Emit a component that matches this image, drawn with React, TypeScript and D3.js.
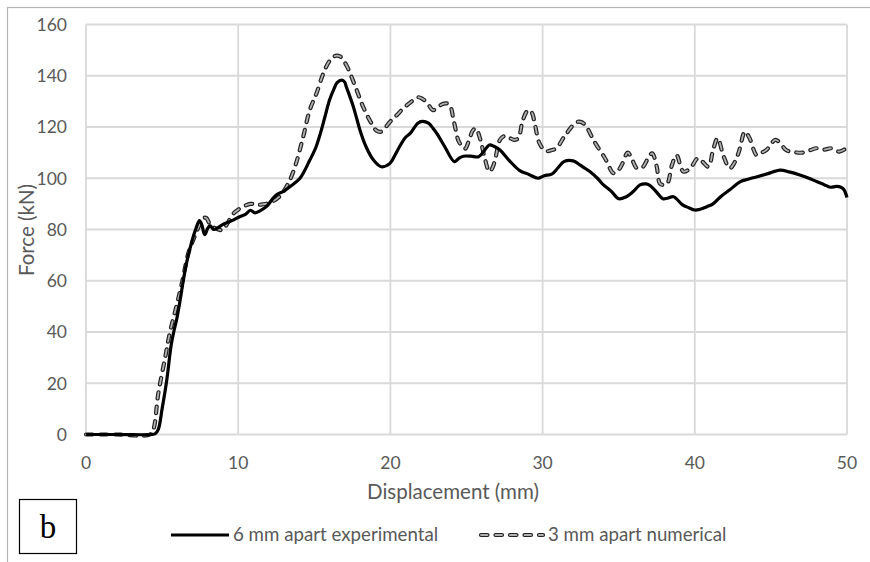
import React from "react";
import * as d3 from "d3";

const xTicks = [0, 10, 20, 30, 40, 50];
const yTicks = [0, 20, 40, 60, 80, 100, 120, 140, 160];

const expDisp = [0, 2, 4.3, 4.55, 4.75, 5.0, 5.3, 5.6, 5.8, 5.96, 6.2, 6.39, 6.61, 6.94, 7.2, 7.45, 7.6, 7.8, 8.0, 8.15, 8.4, 8.6, 9.0, 9.2, 9.6, 10.1, 10.5, 10.8, 11.1, 11.4, 11.87, 12.2, 12.5, 13.0, 13.4, 14.06, 14.7, 15.1, 15.4, 15.7, 16.0, 16.3, 16.5, 16.8, 17.0, 17.1, 17.3, 17.56, 17.8, 18.0, 18.4, 18.9, 19.4, 19.97, 20.3, 20.6, 21.0, 21.3, 21.8, 22.1, 22.5, 22.8, 23.1, 23.6, 24.2, 24.5, 24.8, 25.3, 25.8, 26.2, 26.5, 26.8, 27.2, 27.8, 28.5, 29.1, 29.7, 30.1, 30.6, 31.0, 31.4, 32.0, 32.5, 33.1, 33.6, 34.0, 34.5, 35.0, 35.5, 35.9, 36.4, 36.8, 37.1, 37.5, 37.9, 38.2, 38.6, 39.2, 39.6, 40.0, 40.4, 40.8, 41.2, 41.7, 42.3, 43.0, 43.5, 44.1, 44.8, 45.6, 46.2, 46.9, 47.5, 48.0, 48.5, 48.9, 49.3, 49.6, 49.8, 50];
const expForce = [0, 0, 0, 0.3, 2, 10, 21, 35, 41, 45, 53, 60, 67, 75, 80, 83.5, 82, 78, 80.5, 81.5, 80, 80.5, 82, 82.5, 83.5, 85, 86, 87.5, 86.5, 87.2, 89, 91.5, 93.5, 95, 96.7, 100, 107, 112, 117.5, 124, 130.5, 135, 137.3, 138.3, 137.5, 135.7, 132.5, 128, 123, 118.8, 112.3, 107, 104.5, 105.8, 109, 112.3, 116, 117.5, 121.5, 122.2, 121.5, 119.5, 117, 112, 106.5, 107.8, 108.6, 108.6, 108.4, 111, 113, 112.5, 111, 107, 103, 101.5, 100, 101, 101.6, 104, 106.5, 106.8, 105, 102.6, 100, 97.4, 95, 92, 92.8, 94.5, 97.4, 97.8, 97, 94.5, 92, 92.2, 92.8, 89.6, 88.5, 87.6, 88, 88.9, 90, 92.8, 95.5, 98.7, 99.6, 100.6, 101.8, 103.2, 102.5, 101.3, 100, 98.7, 97.5, 96.5, 96.8, 96.5, 95.5, 92.5];

const numDisp = [0, 2, 4.2, 4.42, 4.75, 5.2, 5.5, 5.96, 6.3, 6.72, 7.05, 7.4, 7.7, 7.9, 8.1, 8.36, 8.7, 9.0, 9.3, 9.7, 10.2, 10.8, 11.2, 11.6, 12.1, 12.7, 13.1, 13.4, 13.8, 14.27, 14.7, 15.15, 15.6, 16.03, 16.4, 16.7, 17.1, 17.7, 18.2, 18.7, 19.1, 19.4, 19.97, 20.4, 20.85, 21.4, 21.8, 22.1, 22.4, 22.8, 23.1, 23.37, 23.7, 23.9, 24.2, 24.5, 24.9, 25.15, 25.4, 25.6, 25.9, 26.2, 26.5, 26.7, 26.9, 27.2, 27.5, 27.75, 28.1, 28.4, 28.7, 29.06, 29.3, 29.5, 29.8, 30.2, 30.6, 30.9, 31.5, 32.2, 32.5, 32.8, 33.4, 34.1, 34.65, 34.9, 35.2, 35.6, 35.9, 36.2, 36.6, 36.9, 37.2, 37.5, 37.7, 37.95, 38.2, 38.5, 38.8, 39.25, 39.7, 40.2, 40.5, 40.9, 41.2, 41.5, 41.9, 42.3, 42.6, 42.9, 43.3, 43.6, 44.07, 44.4, 44.7, 45.3, 45.7, 46.0, 46.5, 47.1, 47.6, 48.0, 48.5, 49.0, 49.5, 49.95];
const numForce = [0, 0, 0, 1.8, 16, 30, 39.5, 50.5, 59, 70.7, 76, 81, 84.4, 84.5, 82.5, 81, 80, 79.8, 82.5, 86.3, 88.5, 90, 89.6, 89.8, 90.5, 92.8, 96, 99.3, 105.8, 116.2, 126.6, 133.2, 141, 146, 147.8, 147.5, 144.2, 135.7, 128, 122, 118.5, 118.2, 122, 124.5, 127.3, 130, 131.6, 131, 129.5, 126.6, 127.5, 128.8, 129.2, 128.6, 121.4, 114.3, 111.5, 114.5, 118.5, 119.5, 115.3, 107.8, 102.6, 104, 107.8, 115, 116.5, 116, 115, 115.6, 122.7, 126.6, 125.5, 120.8, 113.6, 110.6, 111, 111.7, 116.9, 121.8, 122, 120.8, 114.3, 107.8, 102, 102.5, 105.2, 110, 107, 103.9, 104.5, 107.5, 109.7, 104.5, 98, 97.4, 98, 105.2, 109, 102.6, 103.9, 107.8, 106.5, 104.5, 111, 115.6, 108.4, 103.9, 106, 110.4, 118.2, 115.6, 109, 110, 111, 115, 113, 111, 110.2, 110, 111, 111.7, 111.2, 111.7, 110.4, 111.7];

const seriesNames = ["6 mm apart experimental", "3 mm apart numerical"];
const xTitle = "Displacement (mm)";
const yTitle = "Force (kN)";
const panelLabel = "b";

export default function App() {
  const W = 870, H = 562;
  const x = d3.scaleLinear().domain([0, 50]).range([86, 847]);
  const y = d3.scaleLinear().domain([0, 160]).range([434.5, 24.5]);
  const font = "Lato, 'Open Sans', sans-serif";
  const grey = "#595959";

  const expPts: [number, number][] = expDisp.map((d, i) => [d, expForce[i]]);
  const numPts: [number, number][] = numDisp.map((d, i) => [d, numForce[i]]);
  const line = d3
    .line<[number, number]>()
    .x((d) => x(d[0]))
    .y((d) => y(d[1]))
    .curve(d3.curveCatmullRom.alpha(0.5));

  const dash = "6.5 8";

  return (
    <svg
      width={W}
      height={H}
      style={{ position: "absolute", left: 0, top: 0, background: "#fff" }}
    >
      <rect x={0} y={0} width={W} height={H} fill="#fff" />
      {/* outer chart border (cropped) */}
      <rect x={7.5} y={7.5} width={W + 20} height={H + 20} fill="none" stroke="#b4b4b4" strokeWidth={1.2} />

      {/* gridlines */}
      {yTicks.map((t) => (
        <line key={"gy" + t} x1={x(0)} x2={x(50)} y1={y(t)} y2={y(t)} stroke="#d9d9d9" strokeWidth={1.8} />
      ))}
      {xTicks.map((t) => (
        <line key={"gx" + t} x1={x(t)} x2={x(t)} y1={y(0)} y2={y(160)} stroke="#d9d9d9" strokeWidth={1.8} />
      ))}

      {/* tick labels */}
      {yTicks.map((t) => (
        <text key={"ty" + t} x={67} y={y(t)} dy="0.36em" textAnchor="end" fontFamily={font} fontSize={17.5} fill={grey}>
          {t}
        </text>
      ))}
      {xTicks.map((t) => (
        <text key={"tx" + t} x={x(t)} y={468.5} textAnchor="middle" fontFamily={font} fontSize={17.5} fill={grey}>
          {t}
        </text>
      ))}

      {/* axis titles */}
      <text x={453} y={499} textAnchor="middle" fontFamily={font} fontSize={20.5} fill={grey}>
        {xTitle}
      </text>
      <text
        transform={`translate(34,230) rotate(-90)`}
        textAnchor="middle"
        fontFamily={font}
        fontSize={20.5}
        fill={grey}
      >
        {yTitle}
      </text>

      {/* numerical dashed series */}
      <path d={line(numPts) || ""} fill="none" stroke="#222" strokeWidth={4.2} strokeDasharray={dash} strokeLinecap="round" strokeLinejoin="round" />
      <path d={line(numPts) || ""} fill="none" stroke="#b0b0b0" strokeWidth={1.8} strokeDasharray={dash} strokeLinecap="round" strokeLinejoin="round" />

      {/* experimental solid series */}
      <path d={line(expPts) || ""} fill="none" stroke="#000" strokeWidth={3.2} strokeLinejoin="round" />

      {/* legend */}
      <line x1={171} x2={229} y1={535} y2={535} stroke="#000" strokeWidth={3.2} />
      <text x={233} y={541} fontFamily={font} fontSize={18.7} fill={grey}>
        {seriesNames[0]}
      </text>
      <line x1={481} x2={543} y1={535} y2={535} stroke="#222" strokeWidth={4.2} strokeDasharray={dash} strokeLinecap="round" />
      <line x1={481} x2={543} y1={535} y2={535} stroke="#b0b0b0" strokeWidth={1.8} strokeDasharray={dash} strokeLinecap="round" />
      <text x={548} y={541} fontFamily={font} fontSize={18.7} fill={grey}>
        {seriesNames[1]}
      </text>

      {/* panel label box */}
      <rect x={19.5} y={499.5} width={57} height={54} fill="#fff" stroke="#000" strokeWidth={1.2} />
      <text x={48} y={538} textAnchor="middle" fontFamily="'Liberation Serif', 'DejaVu Serif', serif" fontSize={33} fill="#000">
        {panelLabel}
      </text>
    </svg>
  );
}
